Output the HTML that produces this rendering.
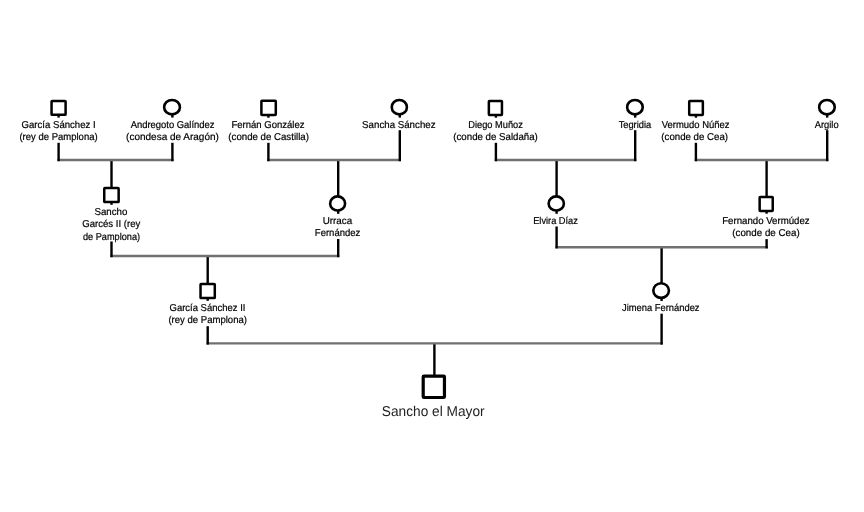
<!DOCTYPE html>
<html lang="es">
<head>
<meta charset="utf-8">
<title>Ancestros de Sancho el Mayor</title>
<style>
html,body{margin:0;padding:0;background:#fff;}
body{width:864px;height:512px;overflow:hidden;}
svg{display:block;will-change:transform;}
text{font-family:"Liberation Sans",sans-serif;text-anchor:middle;text-rendering:geometricPrecision;}
.n{font-size:10px;fill:#000;stroke:#000;stroke-width:0.2px;}
.r{font-size:14.3px;fill:#222;}
.v{stroke:#000;stroke-width:2.4;fill:none;}
.h{stroke:#707070;stroke-width:2.4;fill:none;}
.sq{stroke:#000;stroke-width:2.5;fill:#fff;stroke-linejoin:round;}
.ci{stroke:#000;stroke-width:2.6;fill:#fff;}
</style>
</head>
<body>
<svg width="864" height="512" viewBox="0 0 864 512">
<rect x="0" y="0" width="864" height="512" fill="#fff"/>
<g class="v">
<line x1="111.5" y1="160.0" x2="111.5" y2="187.8"/>
<line x1="338.2" y1="160.0" x2="338.2" y2="196.1"/>
<line x1="556.6" y1="160.0" x2="556.6" y2="196.1"/>
<line x1="766.6" y1="160.0" x2="766.6" y2="196.7"/>
<line x1="207.7" y1="256.0" x2="207.7" y2="283.7"/>
<line x1="661.6" y1="247.2" x2="661.6" y2="282.9"/>
<line x1="434.4" y1="343.4" x2="434.4" y2="375.3"/>
</g>
<g class="h">
<line x1="57.4" y1="160.0" x2="173.6" y2="160.0"/>
<line x1="267.2" y1="160.0" x2="401.0" y2="160.0"/>
<line x1="494.7" y1="160.0" x2="636.4" y2="160.0"/>
<line x1="694.7" y1="160.0" x2="828.4" y2="160.0"/>
<line x1="110.3" y1="256.0" x2="339.4" y2="256.0"/>
<line x1="555.4" y1="247.2" x2="767.9" y2="247.2"/>
<line x1="206.5" y1="343.4" x2="662.9" y2="343.4"/>
</g>
<g>
<rect class="sq" x="51.55" y="100.95" width="14.05" height="13.90" rx="0.6"/>
<line class="v" x1="58.6" y1="115.1" x2="58.6" y2="117.6"/>
<text class="n" id="t0_0" transform="translate(58.59 128) scale(0.9584 1)">García Sánchez I</text>
<text class="n" id="t0_1" transform="translate(58.52 140) scale(0.9505 1)">(rey de Pamplona)</text>
<line class="v" x1="58.6" y1="142.8" x2="58.6" y2="161.2"/>
</g>
<g>
<ellipse class="ci" cx="172.03" cy="107.17" rx="7.89" ry="7.22"/>
<line class="v" x1="172.4" y1="114.7" x2="172.4" y2="117.6"/>
<text class="n" id="t1_0" transform="translate(172.58 128) scale(0.9434 1)">Andregoto Galíndez</text>
<text class="n" id="t1_1" transform="translate(172.47 140) scale(0.9991 1)">(condesa de Aragón)</text>
<line class="v" x1="172.4" y1="142.8" x2="172.4" y2="161.2"/>
</g>
<g>
<rect class="sq" x="261.40" y="100.75" width="14.39" height="14.15" rx="0.6"/>
<line class="v" x1="268.4" y1="115.2" x2="268.4" y2="117.7"/>
<text class="n" id="t2_0" transform="translate(267.97 128) scale(0.9529 1)">Fernán González</text>
<text class="n" id="t2_1" transform="translate(268.63 140) scale(0.9668 1)">(conde de Castilla)</text>
<line class="v" x1="268.4" y1="142.8" x2="268.4" y2="161.2"/>
</g>
<g>
<ellipse class="ci" cx="399.33" cy="107.17" rx="7.57" ry="7.22"/>
<line class="v" x1="399.8" y1="114.7" x2="399.8" y2="117.6"/>
<text class="n" id="t3_0" transform="translate(398.83 128) scale(0.9711 1)">Sancha Sánchez</text>
<line class="v" x1="399.8" y1="130.2" x2="399.8" y2="161.2"/>
</g>
<g>
<rect class="sq" x="488.85" y="100.95" width="13.10" height="13.95" rx="0.6"/>
<line class="v" x1="495.9" y1="115.2" x2="495.9" y2="117.7"/>
<text class="n" id="t4_0" transform="translate(495.58 128) scale(0.9274 1)">Diego Muñoz</text>
<text class="n" id="t4_1" transform="translate(495.57 140) scale(0.9687 1)">(conde de Saldaña)</text>
<line class="v" x1="495.9" y1="142.8" x2="495.9" y2="161.2"/>
</g>
<g>
<ellipse class="ci" cx="634.94" cy="107.17" rx="7.80" ry="7.22"/>
<line class="v" x1="635.2" y1="114.7" x2="635.2" y2="117.6"/>
<text class="n" id="t5_0" transform="translate(634.91 128) scale(0.9288 1)">Tegridia</text>
<line class="v" x1="635.2" y1="130.2" x2="635.2" y2="161.2"/>
</g>
<g>
<rect class="sq" x="689.21" y="100.95" width="13.64" height="13.95" rx="0.6"/>
<line class="v" x1="695.9" y1="115.2" x2="695.9" y2="117.7"/>
<text class="n" id="t6_0" transform="translate(695.68 128) scale(0.9456 1)">Vermudo Núñez</text>
<text class="n" id="t6_1" transform="translate(694.69 140) scale(0.9675 1)">(conde de Cea)</text>
<line class="v" x1="695.9" y1="142.8" x2="695.9" y2="161.2"/>
</g>
<g>
<ellipse class="ci" cx="826.94" cy="107.17" rx="7.80" ry="7.22"/>
<line class="v" x1="827.2" y1="114.7" x2="827.2" y2="117.6"/>
<text class="n" id="t7_0" transform="translate(826.68 128) scale(0.9337 1)">Argilo</text>
<line class="v" x1="827.2" y1="130.2" x2="827.2" y2="161.2"/>
</g>
<g>
<rect class="sq" x="104.25" y="188.05" width="14.40" height="14.00" rx="0.6"/>
<line class="v" x1="111.5" y1="202.3" x2="111.5" y2="204.8"/>
<text class="n" id="t8_0" transform="translate(110.91 215) scale(0.9722 1)">Sancho</text>
<text class="n" id="t8_1" transform="translate(111.27 227) scale(0.9589 1)">Garcés II (rey</text>
<text class="n" id="t8_2" transform="translate(111.52 240) scale(0.9185 1)">de Pamplona)</text>
<line class="v" x1="111.5" y1="241.5" x2="111.5" y2="257.2"/>
</g>
<g>
<ellipse class="ci" cx="337.62" cy="203.47" rx="7.48" ry="7.08"/>
<line class="v" x1="338.2" y1="210.8" x2="338.2" y2="213.8"/>
<text class="n" id="t9_0" transform="translate(337.38 224) scale(0.9823 1)">Urraca</text>
<text class="n" id="t9_1" transform="translate(337.56 236) scale(0.9504 1)">Fernández</text>
<line class="v" x1="338.2" y1="239.0" x2="338.2" y2="257.2"/>
</g>
<g>
<ellipse class="ci" cx="556.27" cy="203.47" rx="7.63" ry="7.08"/>
<line class="v" x1="556.6" y1="210.8" x2="556.6" y2="213.8"/>
<text class="n" id="t10_0" transform="translate(555.51 224) scale(0.9245 1)">Elvira Díaz</text>
<line class="v" x1="556.6" y1="226.5" x2="556.6" y2="248.4"/>
</g>
<g>
<rect class="sq" x="759.65" y="196.95" width="13.08" height="13.95" rx="0.6"/>
<line class="v" x1="766.6" y1="211.2" x2="766.6" y2="213.7"/>
<text class="n" id="t11_0" transform="translate(765.92 224) scale(0.9663 1)">Fernando Vermúdez</text>
<text class="n" id="t11_1" transform="translate(765.97 236) scale(0.9768 1)">(conde de Cea)</text>
<line class="v" x1="766.6" y1="239.1" x2="766.6" y2="248.4"/>
</g>
<g>
<rect class="sq" x="200.53" y="283.95" width="14.26" height="14.15" rx="0.6"/>
<line class="v" x1="207.7" y1="298.3" x2="207.7" y2="300.8"/>
<text class="n" id="t12_0" transform="translate(207.46 311) scale(0.9481 1)">García Sánchez II</text>
<text class="n" id="t12_1" transform="translate(207.67 323) scale(0.9550 1)">(rey de Pamplona)</text>
<line class="v" x1="207.7" y1="326.2" x2="207.7" y2="344.6"/>
</g>
<g>
<ellipse class="ci" cx="661.12" cy="290.52" rx="7.80" ry="7.33"/>
<line class="v" x1="661.6" y1="298.1" x2="661.6" y2="301.0"/>
<text class="n" id="t13_0" transform="translate(660.80 311) scale(0.9354 1)">Jimena Fernández</text>
<line class="v" x1="661.6" y1="313.7" x2="661.6" y2="344.6"/>
</g>
<g>
<rect x="423.20" y="376.15" width="21.25" height="21.35" rx="0.8" style="stroke:#000;stroke-width:3.2;fill:#fff;stroke-linejoin:round"/>
<text class="r" id="tr" transform="translate(433.21 416) scale(0.9579 1)">Sancho el Mayor</text>
</g>
</svg>
</body>
</html>
